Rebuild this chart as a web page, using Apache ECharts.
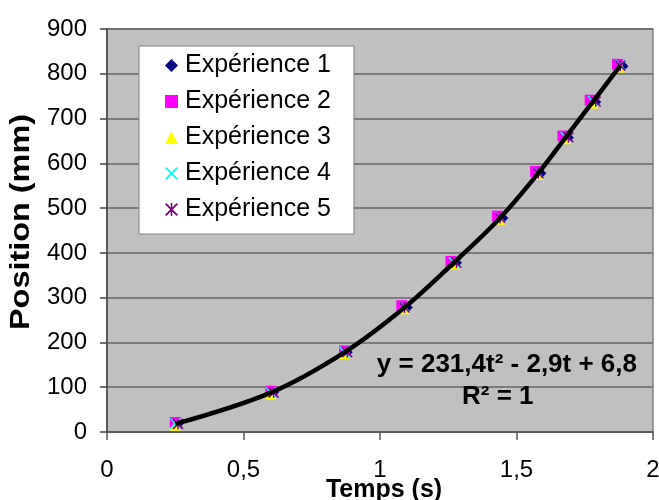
<!DOCTYPE html>
<html>
<head>
<meta charset="utf-8">
<script src="https://cdn.jsdelivr.net/npm/echarts@6/dist/echarts.min.js"></script>
<style>html,body{margin:0;padding:0;background:#fff;}#c{width:659px;height:500px;}</style>
</head>
<body>
<div id="c"></div>
<script>
// ---- data ----
const seriesNames = ['Expérience 1', 'Expérience 2', 'Expérience 3', 'Expérience 4', 'Expérience 5'];
const exp1T = [0.26, 0.61, 0.88, 1.10, 1.28, 1.45, 1.59, 1.69, 1.79, 1.89];
const exp1Y = [18, 88, 178, 278, 378, 478, 578, 657, 737, 817];
const exp2T = [0.25, 0.60, 0.87, 1.08, 1.26, 1.43, 1.57, 1.67, 1.77, 1.87];
const exp2Y = [21, 91, 181, 282, 381, 482, 582, 661, 741, 821];
const exp3T = [0.25, 0.60, 0.87, 1.09, 1.27, 1.44, 1.58, 1.68, 1.78, 1.88];
const exp3Y = [15, 85, 175, 275, 375, 475, 575, 655, 735, 815];
const exp4T = [0.25, 0.60, 0.87, 1.09, 1.27, 1.44, 1.58, 1.68, 1.78, 1.88];
const exp4Y = [19, 89, 179, 279, 379, 479, 579, 659, 739, 819];
const exp5T = [0.26, 0.61, 0.88, 1.09, 1.28, 1.44, 1.58, 1.69, 1.79, 1.88];
const exp5Y = [18, 88, 178, 278, 378, 478, 578, 658, 738, 818];
const trendT = [0.25, 0.60, 0.87, 1.09, 1.27, 1.44, 1.58, 1.68, 1.78, 1.88];
const trendY = [18, 88, 178, 278, 378, 478, 578, 658, 738, 818];
const equationText = 'y = 231,4t² - 2,9t + 6,8';
const r2Text = 'R² = 1';
const xTitle = 'Temps (s)';
const yTitle = 'Position (mm)';

// ---- styles ----
const FONT = "'Liberation Sans', Arial, sans-serif";
const BOLD = "bold 25px 'Liberation Sans', Arial, sans-serif";
const BOLD_EQ = "bold 26px 'Liberation Sans', Arial, sans-serif";
const colors = ['#000080', '#FF00FF', '#FFFF00', '#00FFFF', '#800080'];
const symX = 'path://M0,1L1,0L5,4L9,0L10,1L6,5L10,9L9,10L5,6L1,10L0,9L4,5Z';
const symAst = 'path://M0,1L1,0L5,4L9,0L10,1L6,5L10,9L9,10L5,6L1,10L0,9L4,5Z M4.4,0L5.6,0L5.6,10L4.4,10Z';
const symbols = ['diamond', 'rect', 'triangle', symX, symAst];
const sizes = [11, 11, 11, 11, 11];
const allT = [exp1T, exp2T, exp3T, exp4T, exp5T];
const allY = [exp1Y, exp2Y, exp3Y, exp4Y, exp5Y];

const zip = (a, b) => a.map((v, i) => [v, b[i]]);

const series = seriesNames.map((name, i) => ({
  name: name,
  type: 'scatter',
  data: zip(allT[i], allY[i]),
  symbol: symbols[i],
  symbolSize: sizes[i],
  itemStyle: { color: colors[i], opacity: 1 },
  z: 2 + i,
  silent: true
}));
series.push({
  name: 'trend',
  type: 'line',
  data: zip(trendT, trendY),
  smooth: 0.35,
  showSymbol: false,
  lineStyle: { color: '#000', width: 4.5 },
  z: 10,
  silent: true
});

const chart = echarts.init(document.getElementById('c'), null, { renderer: 'canvas' });
chart.setOption({
  animation: false,
  backgroundColor: '#fff',
  textStyle: { fontFamily: FONT },
  grid: {
    left: 107, right: 6, top: 29, bottom: 68,
    containLabel: false, outerBoundsMode: 'none',
    show: true, backgroundColor: '#C0C0C0', borderColor: '#808080', borderWidth: 1.5
  },
  xAxis: {
    type: 'value', min: 0, max: 2, interval: 0.5,
    axisLine: { show: true, onZero: false, lineStyle: { color: '#555', width: 1.5 } },
    axisTick: { show: true, inside: false, length: 8, lineStyle: { color: '#555', width: 1.5 } },
    axisLabel: { fontFamily: FONT, fontSize: 24, color: '#000', margin: 26,
      formatter: v => String(v).replace('.', ',') },
    splitLine: { show: false }
  },
  yAxis: {
    type: 'value', min: 0, max: 900, interval: 100,
    axisLine: { show: true, lineStyle: { color: '#444', width: 1.5 } },
    axisTick: { show: true, inside: false, length: 7, lineStyle: { color: '#444', width: 1.5 } },
    axisLabel: { fontFamily: FONT, fontSize: 24, color: '#000', margin: 20 },
    splitLine: { show: true, lineStyle: { color: '#666', width: 1.5 } }
  },
  legend: {
    data: seriesNames,
    orient: 'vertical',
    left: 139, top: 46,
    padding: [7, 23, 12, 26],
    itemGap: 11,
    itemWidth: 13, itemHeight: 13,
    backgroundColor: '#fff',
    borderColor: '#808080', borderWidth: 1,
    borderRadius: 0,
    textStyle: { fontFamily: FONT, fontSize: 25, color: '#000', padding: [0, 0, 0, 2] },
    selectedMode: false
  },
  graphic: [
    { type: 'text', right: 22, top: 352, z: 100,
      style: { text: equationText, font: BOLD_EQ, fill: '#000' } },
    { type: 'text', left: 462, top: 384, z: 100,
      style: { text: r2Text, font: BOLD_EQ, fill: '#000' } },
    { type: 'text', x: 384, y: 490, z: 100,
      style: { text: xTitle, font: BOLD, fill: '#000', align: 'center', verticalAlign: 'middle' } },
    { type: 'text', x: 22, y: 222, rotation: Math.PI / 2, scaleX: 1.2, z: 100,
      style: { text: yTitle, font: "bold 27px 'Liberation Sans', Arial, sans-serif", fill: '#000',
        align: 'center', verticalAlign: 'middle' } }
  ],
  series: series
});
</script>
</body>
</html>
